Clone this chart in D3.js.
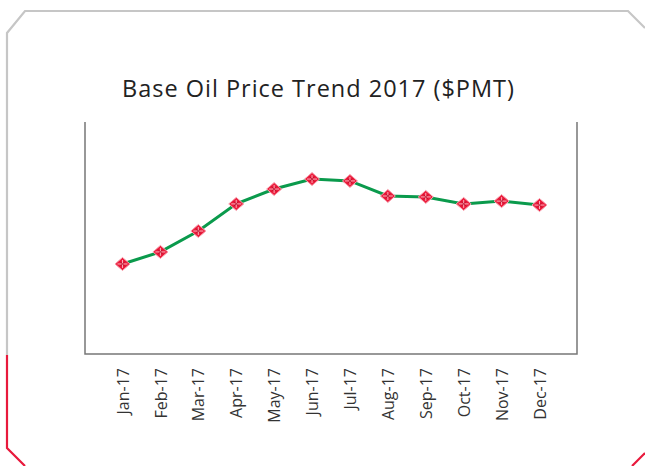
<!DOCTYPE html>
<html>
<head>
<meta charset="utf-8">
<script src="https://cdn.jsdelivr.net/npm/d3@7"></script>
<style>
  body { margin: 0; background: #fff; }
  svg { display: block; font-family: "Open Sans", "DejaVu Sans", sans-serif; }
</style>
</head>
<body>
<div id="chart"></div>
<script>
// months and price values ($PMT)
var months = ["Jan-17","Feb-17","Mar-17","Apr-17","May-17","Jun-17","Jul-17","Aug-17","Sep-17","Oct-17","Nov-17","Dec-17"];
var prices = [388, 440, 530, 647, 711, 754, 746, 681, 677, 647, 659, 642];

var svgWidth = 645, svgHeight = 466;

var svg = d3.select("#chart").append("svg")
  .attr("width", svgWidth)
  .attr("height", svgHeight);

// outer frame, grey part then red part
svg.append("path")
  .attr("d", "M7,355 L7,33 L25,11 L628,11 L645,28")
  .attr("fill", "none").attr("stroke", "#c6c6c6").attr("stroke-width", 2.2);
svg.append("path")
  .attr("d", "M7,355 L7,448 L25,466")
  .attr("fill", "none").attr("stroke", "#e8193c").attr("stroke-width", 2.2);
svg.append("path")
  .attr("d", "M632,466 L645,453")
  .attr("fill", "none").attr("stroke", "#e8193c").attr("stroke-width", 2.2);

// title
svg.append("text")
  .attr("x", 122).attr("y", 97)
  .attr("font-size", 23.5)
  .attr("textLength", 392)
  .attr("lengthAdjust", "spacing")
  .attr("fill", "#222")
  .text("Base Oil Price Trend 2017 ($PMT)");

// plot box
var box = {left: 85, right: 577, top: 122, bottom: 354};

var x = d3.scalePoint()
  .domain(months)
  .range([122.5, 539.5]);

var y = d3.scaleLinear()
  .domain([0, 1000])
  .range([box.bottom, box.bottom - 232]);

// box lines (no top)
svg.append("path")
  .attr("d", `M${box.left},${box.top} L${box.left},${box.bottom} L${box.right},${box.bottom} L${box.right},${box.top}`)
  .attr("fill", "none").attr("stroke", "#777").attr("stroke-width", 1.5);

// x axis labels via axis
var xAxis = svg.append("g")
  .attr("transform", `translate(0, ${box.bottom})`)
  .call(d3.axisBottom(x).tickSize(0).tickPadding(0));
xAxis.select(".domain").remove();
xAxis.selectAll("text")
  .attr("transform", "translate(0,14) rotate(-90)")
  .attr("x", 0).attr("y", 0).attr("dy", "0.35em")
  .style("text-anchor", "end")
  .attr("font-size", 16)
  .attr("font-family", "\"Open Sans\", sans-serif")
  .attr("fill", "#333");

// line
var line = d3.line()
  .x((d, i) => x(months[i]))
  .y(d => y(d));

svg.append("path")
  .datum(prices)
  .attr("d", line)
  .attr("fill", "none")
  .attr("stroke", "#0a9a4c")
  .attr("stroke-width", 3);

// markers
var marker = svg.selectAll(".mk")
  .data(prices)
  .enter().append("g")
  .attr("class", "mk")
  .attr("transform", (d, i) => `translate(${x(months[i])}, ${y(d)})`);

marker.append("path")
  .attr("d", "M0,-6.5 L7.5,0 L0,6.5 L-7.5,0 Z")
  .attr("fill", "#ec1c3c")
  .attr("stroke", "#f7a0ae")
  .attr("stroke-width", 1);
marker.append("path")
  .attr("d", "M-5,0 L5,0 M0,-4 L0,4")
  .attr("stroke", "#fff")
  .attr("stroke-width", 0.8)
  .attr("opacity", 0.8);
marker.append("path")
  .attr("d", "M-2.5,-2.5 L2.5,2.5 M-2.5,2.5 L2.5,-2.5")
  .attr("stroke", "#b0102a")
  .attr("stroke-width", 0.8);
</script>
</body>
</html>
